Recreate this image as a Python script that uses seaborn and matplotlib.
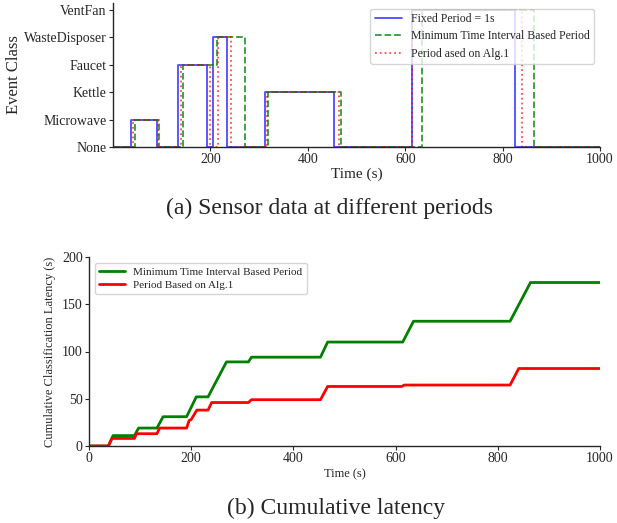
import matplotlib
matplotlib.use('Agg')
import matplotlib.pyplot as plt
import seaborn as sns
import pandas as pd

# ---------------- data ----------------
classes = ["None", "Microwave", "Kettle", "Faucet", "WasteDisposer", "VentFan"]

# (a) event class over time, step changes (time in s, class index)
fixed_t = [0, 37, 90, 134, 192, 205, 235, 312, 454, 613, 826, 1000]
fixed_c = [0, 1, 0, 3, 0, 4, 0, 2, 0, 5, 0, 0]
mti_t = [0, 45, 95, 143, 213, 271, 318, 468, 635, 865, 1000]
mti_c = [0, 1, 0, 3, 4, 0, 2, 0, 5, 0, 0]
alg_t = [0, 42, 92, 139, 200, 215, 242, 316, 465, 614, 840, 1000]
alg_c = [0, 1, 0, 3, 0, 4, 0, 2, 0, 5, 0, 0]

# (b) cumulative classification latency
lat_mti_t = [0, 38, 47, 89, 97, 133, 145, 191, 210, 233, 269, 312, 318, 453, 467,
             614, 635, 824, 864, 1000]
lat_mti_v = [0, 0, 11, 11, 19, 19, 31, 31, 52, 52, 89, 89, 94, 94, 110,
             110, 132, 132, 173, 173]
lat_alg_t = [0, 38, 45, 89, 93, 133, 138, 191, 196, 200, 211, 233, 240, 312, 318,
             453, 467, 612, 617, 824, 841, 1000]
lat_alg_v = [0, 0, 8, 8, 13, 13, 19, 19, 27, 28, 38, 38, 46, 46, 49,
             49, 63, 63, 64.5, 64.5, 82, 82]

# ---------------- style ----------------
sns.set_style('ticks')
plt.rcParams['font.family'] = ['Liberation Serif', 'DejaVu Serif']
plt.rcParams['axes.linewidth'] = 1.0

fig = plt.figure(figsize=(6.17, 5.23), dpi=100)
W, H = 617, 523

# ---------------- (a) ----------------
ax1 = fig.add_axes([113 / W, 1 - 147 / H, 487 / W, 144 / H])
series_a = [
    ("Fixed Period = 1s", fixed_t, fixed_c, "blue", "-", 0.7),
    ("Minimum Time Interval Based Period", mti_t, mti_c, "green", "--", 0.8),
    ("Period ased on Alg.1", alg_t, alg_c, "red", ":", 0.7),
]
for name, t, c, col, ls, al in series_a:
    df = pd.DataFrame({"Time (s)": t, "Event Class": c})
    sns.lineplot(data=df, x="Time (s)", y="Event Class", ax=ax1, color=col,
                 linestyle=ls, alpha=al, linewidth=1.3, sort=False, estimator=None,
                 drawstyle="steps-post", label=name)
ax1.set_xlim(0, 1000)
ax1.set_ylim(0, 5.25)
ax1.set_xticks([200, 400, 600, 800, 1000])
ax1.set_yticks(range(len(classes)))
ax1.set_yticklabels(classes)
ax1.tick_params(labelsize=10, length=3, width=0.8, pad=1.5)
ax1.set_xlabel("Time (s)", fontsize=11, labelpad=1)
ax1.set_ylabel("Event Class", fontsize=12)
ax1.yaxis.set_label_coords(-91 / 487, 0.5)
sns.despine(ax=ax1)
ax1.legend(loc="upper right", fontsize=8.5, frameon=True, borderpad=0.35,
           labelspacing=0.45, handlelength=2.3, handletextpad=0.8)

# ---------------- (b) ----------------
ax2 = fig.add_axes([89 / W, 1 - 446 / H, 511 / W, 189 / H])
series_b = [
    ("Minimum Time Interval Based Period", lat_mti_t, lat_mti_v, "green"),
    ("Period Based on Alg.1", lat_alg_t, lat_alg_v, "red"),
]
for name, t, v, col in series_b:
    df = pd.DataFrame({"Time (s)": t, "Latency": v})
    sns.lineplot(data=df, x="Time (s)", y="Latency", ax=ax2, color=col,
                 linewidth=2, sort=False, estimator=None, label=name)
ax2.set_xlim(0, 1000)
ax2.set_ylim(0, 200)
ax2.set_xticks([0, 200, 400, 600, 800, 1000])
ax2.set_yticks([0, 50, 100, 150, 200])
ax2.tick_params(labelsize=10, length=3, width=0.8, pad=1.5)
ax2.set_xlabel("Time (s)", fontsize=9, labelpad=2)
ax2.set_ylabel("Cumulative Classification Latency (s)", fontsize=9, labelpad=4)
sns.despine(ax=ax2)
ax2.legend(loc="upper left", fontsize=8, frameon=True, borderpad=0.4,
           labelspacing=0.3, handlelength=2.3, handletextpad=0.8)

# ---------------- captions ----------------
fig.text(330 / W, 1 - 208 / H, "(a) Sensor data at different periods",
         ha="center", va="center", fontsize=17)
fig.text(336 / W, 1 - 508 / H, "(b) Cumulative latency",
         ha="center", va="center", fontsize=17)

fig.savefig("out.png", dpi=100)
